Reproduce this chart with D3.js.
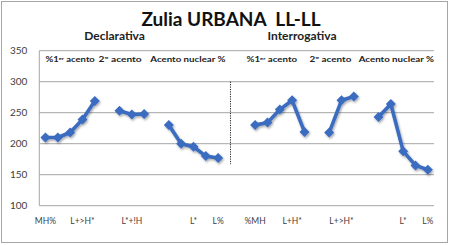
<!DOCTYPE html>
<html><head><meta charset="utf-8">
<script src="https://cdn.jsdelivr.net/npm/d3@7"></script>
<style>body{margin:0;background:#fff}svg{display:block}</style>
</head><body>
<script>
// ---- data ----
const categories = ["MH%","","","L+>H*","","","","L*+!H","","","","","L*","","L%","","","%MH","","","L+H*","","","","L+>H*","","","","","L*","","L%"];
const values = [210,210,218,239,269,null,253,247,248,null,230,200,195,180,177,null,null,230,234,255,270,219,null,218,270,276,null,243,264,188,165,158];
const yTicks = [100,150,200,250,300,350];
const title = "Zulia URBANA\u00a0\u00a0LL-LL";
const sectionTitles = ["Declarativa","Interrogativa"];
const sectionCenters = [5.6,20.8];   // category position the section title is centred on
const headers = [
  {text:"%1", sup:"er", rest:" acento", from:0, to:4},
  {text:"2º acento", from:4.3, to:7.8},
  {text:"Acento nuclear %", from:8.5, to:14.6},
  {text:"%1", sup:"er", rest:" acento", from:16.3, to:20.4},
  {text:"2º acento", from:21.4, to:24.8},
  {text:"Acento nuclear %", from:25.4, to:31.5}
];
const divider = {cat:15, from:300, to:167};

// ---- layout ----
const W=450,H=245;
const m={l:39.3,t:50.7,r:16,b:39.3};
const pw=W-m.l-m.r, ph=H-m.t-m.b;
const svg=d3.select("body").append("svg").attr("width",W).attr("height",H);
const font="Lato, 'Open Sans', sans-serif";

svg.append("rect").attr("x",1.5).attr("y",1.5).attr("width",W-4).attr("height",H-4)
  .attr("fill","#fff").attr("stroke","#a6a6a6").attr("stroke-width",1);

const defs=svg.append("defs");
const f=defs.append("filter").attr("id","sh").attr("x","-20%").attr("y","-20%").attr("width","140%").attr("height","140%");
f.append("feDropShadow").attr("dx",1).attr("dy",1.5).attr("stdDeviation",1).attr("flood-color","#000").attr("flood-opacity",0.35);

const x=d3.scaleBand().domain(d3.range(categories.length)).range([0,pw]);
const xc=i=>x(i)+x.bandwidth()/2;
const xs=d3.scaleLinear().domain([0,categories.length-1]).range([xc(0),xc(categories.length-1)]);
const y=d3.scaleLinear().domain([100,350]).range([ph,0]);

const g=svg.append("g").attr("transform",`translate(${m.l},${m.t})`);

// gridlines
g.append("g").selectAll("line").data(yTicks).join("line")
  .attr("x1",0).attr("x2",pw).attr("y1",d=>y(d)).attr("y2",d=>y(d))
  .attr("stroke","#a6a6a6").attr("stroke-width",1);
// left axis line
g.append("line").attr("x1",0).attr("x2",0).attr("y1",0).attr("y2",ph).attr("stroke","#a6a6a6");

// y axis labels
const ya=g.append("g").call(d3.axisLeft(y).tickValues(yTicks).tickSize(0).tickPadding(12));
ya.select(".domain").remove();
ya.selectAll("text").attr("font-family",font).attr("font-size",10).attr("fill","#404040");

// x axis labels
const xa=g.append("g").attr("transform",`translate(0,${ph})`)
  .call(d3.axisBottom(x).tickFormat(i=>categories[i]).tickSize(0).tickPadding(12));
xa.select(".domain").remove();
xa.selectAll("text").attr("font-family",font).attr("font-size",8.5).attr("fill","#404040");

// divider
g.append("line").attr("x1",xc(divider.cat)).attr("x2",xc(divider.cat))
  .attr("y1",y(divider.from)).attr("y2",y(divider.to))
  .attr("stroke","#222").attr("stroke-width",1).attr("stroke-dasharray","1.2,1.2");

// headers
headers.forEach(h=>{
  const t=g.append("text").attr("x",xs(h.from)).attr("y",y(350)+11.5)
    .attr("font-family",font).attr("font-size",7.3).attr("font-weight","bold").attr("fill","#222")
    .attr("textLength",xs(h.to)-xs(h.from)).attr("lengthAdjust","spacingAndGlyphs");
  t.append("tspan").text(h.text);
  if(h.sup){ t.append("tspan").attr("font-size",4.5).attr("dy",-2.5).text(h.sup);
    t.append("tspan").attr("dy",2.5).text(h.rest);}
});

// series
const col="#3a6cc0";
const data=values.map((v,i)=>({i,v}));
const line=d3.line().defined(d=>d.v!=null).x(d=>xc(d.i)).y(d=>y(d.v));
const sg=g.append("g").attr("filter","url(#sh)");
sg.append("path").attr("d",line(data)).attr("fill","none").attr("stroke",col).attr("stroke-width",3.6).attr("stroke-linejoin","round");
sg.selectAll("path.mk").data(data.filter(d=>d.v!=null)).join("path").attr("class","mk")
  .attr("d",d3.symbol(d3.symbolSquare,50)())
  .attr("transform",d=>`translate(${xc(d.i)},${y(d.v)}) rotate(45)`)
  .attr("fill",col);

// titles
svg.append("text").attr("x",W/2+6).attr("y",25.5).attr("text-anchor","middle")
  .attr("font-family",font).attr("font-size",19).attr("font-weight","bold").attr("fill","#111")
  .text(title);
sectionTitles.forEach((s,k)=>{
  svg.append("text").attr("x",m.l+xs(sectionCenters[k])).attr("y",40).attr("text-anchor","middle")
    .attr("font-family",font).attr("font-size",12).attr("font-weight","bold").attr("fill","#222").text(s);
});
</script>
</body></html>
